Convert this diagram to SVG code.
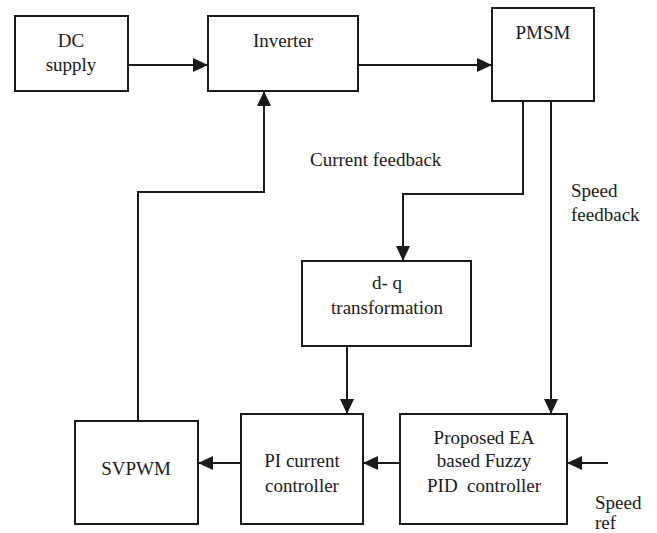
<svg xmlns="http://www.w3.org/2000/svg" width="657" height="533" viewBox="0 0 657 533">
<style>
.box{fill:#fff;stroke:#1a1a1a;stroke-width:2}
.ln{fill:none;stroke:#1a1a1a;stroke-width:2}
.t{font-family:'Liberation Serif',Tinos,'Times New Roman',Times,'Nimbus Roman','Noto Serif','DejaVu Serif',FreeSerif,serif;font-size:19px;fill:#1a1a1a}
.c{text-anchor:middle}
</style>
<defs>
<marker id="ah" markerUnits="userSpaceOnUse" markerWidth="15" markerHeight="14" refX="15" refY="7" orient="auto">
<path d="M0,0 L15,7 L0,14 z" fill="#1a1a1a"/>
</marker>
</defs>
<rect width="657" height="533" fill="#fff"/>
<g id="connectors">
<path class="ln" d="M128,65 H208" marker-end="url(#ah)"/>
<path class="ln" d="M358,65 H492" marker-end="url(#ah)"/>
<path class="ln" d="M523,101 V194 H403 V261" marker-end="url(#ah)"/>
<path class="ln" d="M551,101 V414" marker-end="url(#ah)"/>
<path class="ln" d="M347,346 V414" marker-end="url(#ah)"/>
<path class="ln" d="M400,463 H363" marker-end="url(#ah)"/>
<path class="ln" d="M241,463 H198" marker-end="url(#ah)"/>
<path class="ln" d="M608,463 H567" marker-end="url(#ah)"/>
<path class="ln" d="M138,421 V192 H264 V91" marker-end="url(#ah)"/>
</g>
<g class="t">
<g id="dc">
<rect class="box" x="15" y="16" width="113" height="75"/>
<text class="c" x="71" y="47">DC</text>
<text class="c" x="71" y="71">supply</text>
</g>
<g id="inverter">
<rect class="box" x="208" y="16" width="150" height="75"/>
<text class="c" x="283" y="47">Inverter</text>
</g>
<g id="pmsm">
<rect class="box" x="492" y="8" width="102" height="93"/>
<text class="c" x="543" y="39">PMSM</text>
</g>
<g id="labels">
<text x="310" y="166">Current feedback</text>
<text x="571" y="197">Speed</text>
<text x="571" y="221">feedback</text>
<text x="595" y="509">Speed</text>
<text x="595" y="529">ref</text>
</g>
<g id="dq">
<rect class="box" x="302" y="261" width="169" height="85"/>
<text class="c" x="387" y="289">d- q</text>
<text class="c" x="387" y="314">transformation</text>
</g>
<g id="svpwm">
<rect class="box" x="75" y="421" width="123" height="103"/>
<text class="c" x="136" y="475">SVPWM</text>
</g>
<g id="pi">
<rect class="box" x="241" y="414" width="122" height="110"/>
<text class="c" x="302" y="467">PI current</text>
<text class="c" x="302" y="492">controller</text>
</g>
<g id="fuzzy">
<rect class="box" x="400" y="414" width="167" height="110"/>
<text class="c" x="484" y="444">Proposed EA</text>
<text class="c" x="484" y="467">based Fuzzy</text>
<text class="c" x="484" y="492" xml:space="preserve">PID  controller</text>
</g>
</g>
</svg>
